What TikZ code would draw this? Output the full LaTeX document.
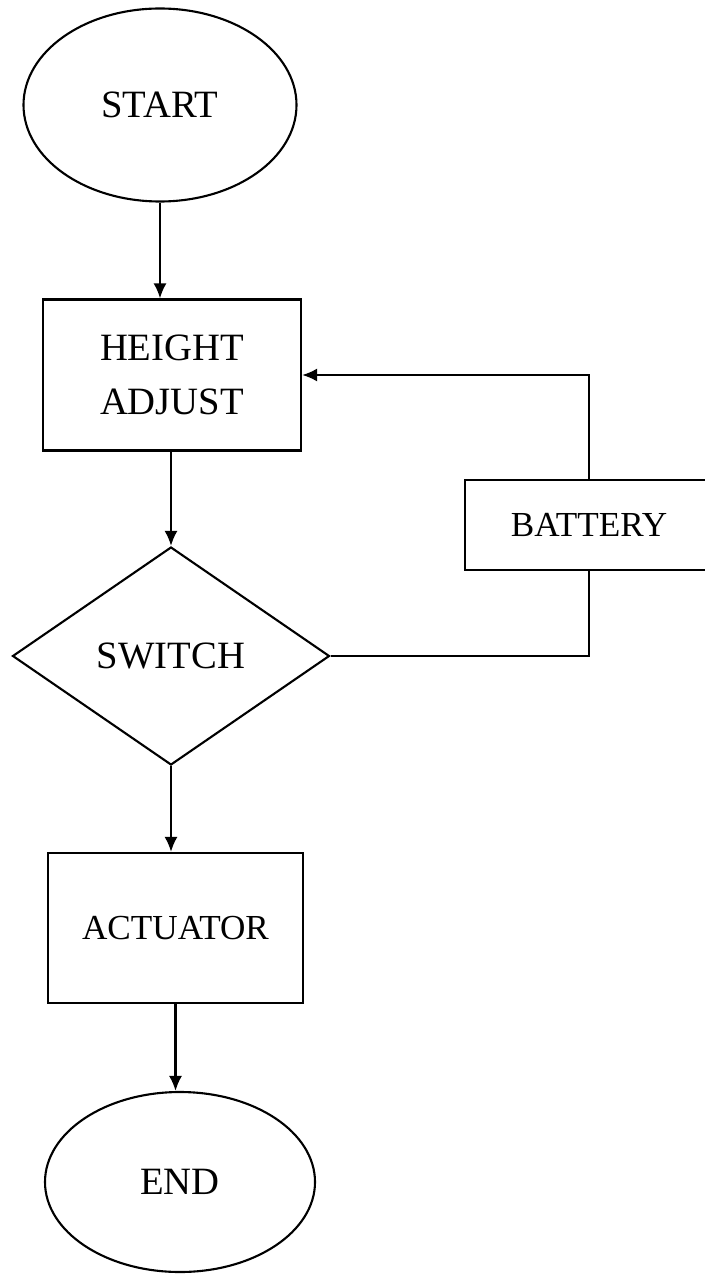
\documentclass[tikz,border=0pt]{standalone}
\usepackage{fontspec}
\setmainfont{Liberation Serif}
\usetikzlibrary{positioning,shapes.geometric,arrows.meta}

\begin{document}
\begin{tikzpicture}[every node/.style={font=\fontsize{22}{31}\selectfont},
  line width=1.2pt,
  terminal/.style={ellipse,draw},
  process/.style={rectangle,draw,align=center},
  decision/.style={diamond,draw,minimum width=6.34cm,minimum height=4.36cm},
  flow/.style={-{Latex[length=3mm,width=2.6mm]}}]
\useasboundingbox (0,0) rectangle (14.08,-25.5);
\node[terminal,minimum width=5.46cm,minimum height=3.86cm] (start) at (3.2,-2.1) {START};
\node[process,minimum width=5.16cm,minimum height=3.02cm] (height) at (3.44,-7.5) {HEIGHT\\ADJUST};
\node[decision] (switch) at (3.42,-13.12) {SWITCH};
\node[process,minimum width=4.96cm,minimum height=1.8cm,font=\fontsize{20}{24}\selectfont] (battery) at (11.78,-10.5) {BATTERY};
\node[process,minimum width=5.1cm,minimum height=3cm,font=\fontsize{20}{24}\selectfont] (actuator) at (3.51,-18.56) {ACTUATOR};
\node[terminal,minimum width=5.4cm,minimum height=3.6cm] (end) at (3.6,-23.64) {END};
\draw[flow] (start.south) -- (start.south |- height.north);
\draw[flow] (switch.north |- height.south) -- (switch.north);
\draw (switch.east) -| (battery.south);
\draw[flow] (battery.north) |- (height.east);
\draw[flow] (switch.south) -- (switch.south |- actuator.north);
\draw[flow] (actuator.south) -- (actuator.south |- end.north);
\end{tikzpicture}
\end{document}
